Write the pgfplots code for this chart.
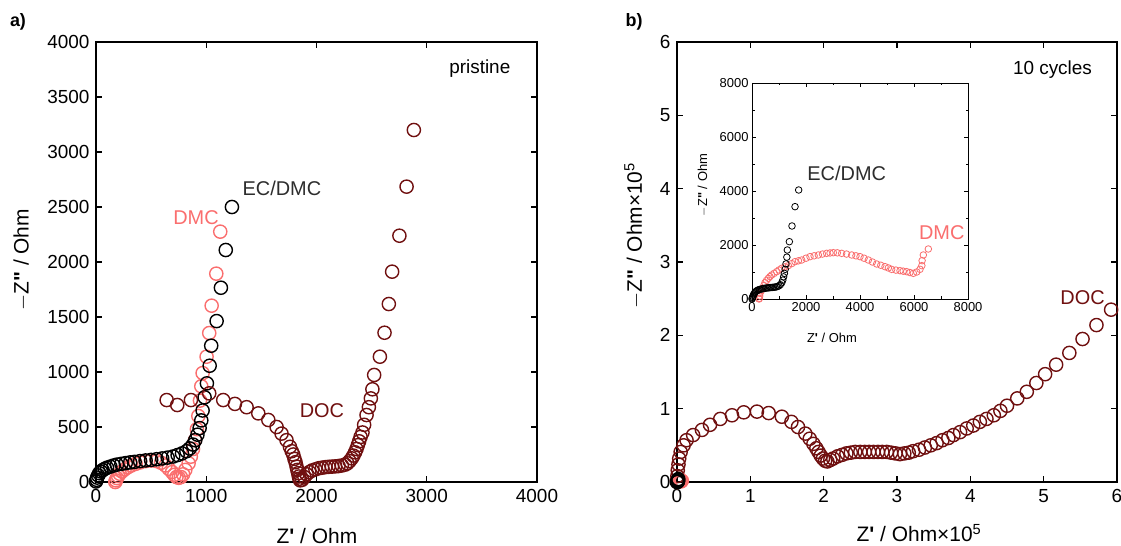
\documentclass[border=0pt]{standalone}
\usepackage{fontspec}
\setmainfont{Liberation Sans}[Ligatures=TeXOff]
\usepackage{pgfplots}
\pgfplotsset{compat=1.18}
\definecolor{docred}{RGB}{112,16,16}
\definecolor{dmcred}{RGB}{250,110,110}
\definecolor{ecgray}{RGB}{45,45,45}
\newcommand{\zpp}{Z{\bfseries\symbol{34}}}
\newcommand{\zp}{Z{\bfseries\symbol{39}}}
\begin{document}
\begin{tikzpicture}
\useasboundingbox (0,0) rectangle (1121bp,546bp);
\pgfplotsset{
  mainax/.style={scale only axis, clip=false,
    axis line style={line width=1.2bp},
    every tick/.style={line width=1.2bp, black},
    major tick length=6bp, minor tick length=3.5bp, tick align=inside,
    ticklabel style={font=\fontsize{19}{19}\selectfont},
    label style={font=\fontsize{21}{21}\selectfont},
    /pgf/number format/assume math mode=true,
    /pgf/number format/1000 sep={},
    xticklabel style={yshift=-4bp},
    yticklabel style={xshift=-3bp}},
  bigmk/.style={only marks, mark=o, mark size=6.6bp, mark options={line width=1.4bp, fill=white, draw=#1}},
  smallmk/.style={only marks, mark=o, mark size=3.3bp, mark options={line width=0.8bp, fill=white, draw=#1}},
}
% ---------------- panel a ----------------
\begin{axis}[mainax, at={(96bp,64bp)}, anchor=south west,
  width=441bp, height=440bp,
  xmin=0, xmax=4000, ymin=0, ymax=4000,
  xtick={0,1000,...,4000}, ytick={0,500,...,4000},
  xlabel={\zp\ / Ohm}, ylabel={$-$\zpp\ / Ohm},
  xlabel style={at={(axis description cs:0.501,-0.123)}, anchor=center},
  ylabel style={at={(axis description cs:-0.168,0.505)}, anchor=center}]
\addplot[bigmk=dmcred] coordinates {
(175,0) (180,15) (190,35) (200,55) (215,75) (235,95) (260,115) (290,135)
(320,150) (360,165) (400,178) (450,190) (500,195) (550,190) (590,175)
(630,150) (660,120) (690,90) (710,65) (730,45) (750,38) (770,45) (790,70)
(810,110) (840,170) (860,230) (880,300) (898,380) (915,480) (928,600)
(943,740) (955,870) (967,990) (1003,1139) (1027,1354) (1049,1603)
(1091,1894) (1127,2276)};
\addplot[bigmk=black] coordinates {
(0,5) (5,20) (10,40) (20,60) (30,80) (45,95) (60,108) (80,120) (100,130)
(130,140) (160,150) (190,158) (230,165) (270,172) (310,178) (350,183)
(400,190) (450,196) (500,201) (550,207) (600,214) (650,222) (700,232)
(740,245) (780,260) (820,280) (850,305) (880,340) (900,380) (920,430)
(940,490) (955,560) (967,650) (985,770) (1006,897) (1031,1057)
(1045,1239) (1094,1463) (1133,1766) (1177,2109) (1233,2500)};
\addplot[bigmk=docred] coordinates {
(641,745) (737,700) (861,745) (1027,806) (1154,745) (1260,710) (1366,680)
(1472,624) (1563,564) (1638,500) (1683,440) (1728,380) (1759,320)
(1775,280) (1789,250) (1800,210) (1810,180) (1819,140) (1826,110)
(1834,80) (1840,50) (1845,30) (1852,15) (1870,20) (1890,45) (1910,70)
(1935,90) (1960,105) (1990,115) (2020,125) (2050,130) (2080,135)
(2110,138) (2140,140) (2170,142) (2200,145) (2230,150) (2260,158)
(2280,170) (2300,190) (2320,215) (2335,240) (2350,270) (2363,300)
(2375,335) (2387,370) (2400,410) (2417,450) (2432,520) (2454,609)
(2475,680) (2493,760) (2507,843) (2523,973) (2575,1139) (2617,1357)
(2656,1618) (2686,1912) (2752,2239) (2817,2685) (2883,3200)};
\node[font=\fontsize{19}{19}\selectfont, text=black] at (axis cs:3481,3755) {pristine};
\node[font=\fontsize{20}{20}\selectfont, text=ecgray] at (axis cs:1686,2673) {EC/DMC};
\node[font=\fontsize{20}{20}\selectfont, text=dmcred] at (axis cs:907,2400) {DMC};
\node[font=\fontsize{20}{20}\selectfont, text=docred] at (axis cs:2049,645) {DOC};
\end{axis}
\node[font=\fontsize{18}{18}\selectfont\bfseries] at (18bp,524bp) {a)};
\node[font=\fontsize{18}{18}\selectfont\bfseries] at (634bp,524bp) {b)};
% ---------------- panel b ----------------
\begin{axis}[mainax, at={(677bp,64bp)}, anchor=south west,
  width=440bp, height=440bp,
  xmin=0, xmax=6, ymin=0, ymax=6,
  xtick={0,1,...,6}, ytick={0,1,...,6},
  xlabel={\zp\ / Ohm×10\textsuperscript{5}}, ylabel={$-$\zpp\ / Ohm×10\textsuperscript{5}},
  xlabel style={at={(axis description cs:0.55,-0.116)}, anchor=center},
  ylabel style={at={(axis description cs:-0.098,0.56)}, anchor=center}]
\addplot[bigmk=docred] coordinates {
(0,0.02) (0.005,0.08) (0.01,0.16) (0.02,0.24) (0.03,0.32) (0.05,0.41)
(0.09,0.5) (0.13,0.57) (0.22,0.64) (0.34,0.71) (0.45,0.78) (0.59,0.86)
(0.75,0.91) (0.91,0.95) (1.09,0.96) (1.25,0.94) (1.43,0.89) (1.56,0.82)
(1.65,0.75) (1.75,0.66) (1.81,0.59) (1.86,0.52) (1.9,0.46) (1.93,0.41)
(1.96,0.36) (1.99,0.32) (2.02,0.29) (2.05,0.28) (2.09,0.3) (2.13,0.32)
(2.19,0.35) (2.25,0.37) (2.31,0.39) (2.37,0.4) (2.43,0.41) (2.5,0.41)
(2.56,0.41) (2.62,0.41) (2.68,0.41) (2.74,0.41) (2.8,0.41) (2.86,0.41)
(2.92,0.4) (2.98,0.39) (3.04,0.38) (3.1,0.39) (3.16,0.4) (3.22,0.42)
(3.3,0.44) (3.38,0.47) (3.46,0.5) (3.54,0.53) (3.62,0.57) (3.7,0.6)
(3.77,0.64) (3.86,0.68) (3.95,0.73) (4.04,0.77) (4.13,0.82) (4.22,0.86)
(4.32,0.91) (4.41,0.97) (4.5,1.04) (4.64,1.14) (4.77,1.23) (4.9,1.35)
(5.02,1.47) (5.17,1.6) (5.35,1.76) (5.53,1.95) (5.72,2.14) (5.92,2.35)};
\addplot[bigmk=dmcred] coordinates {
(0.003,0) (0.01,0.01) (0.02,0.015) (0.03,0.017) (0.045,0.015) (0.055,0.01)
(0.06,0.012) (0.065,0.019)};
\addplot[bigmk=black] coordinates {
(0,0) (0.005,0.004) (0.01,0.005) (0.013,0.01) (0.015,0.025) (0.017,0.04)};
\node[font=\fontsize{19}{19}\selectfont, text=black] at (axis cs:5.12,5.63) {10 cycles};
\node[font=\fontsize{20}{20}\selectfont, text=docred] at (axis cs:5.53,2.52) {DOC};
\end{axis}
% ---------------- inset ----------------
\begin{axis}[scale only axis, clip=false, at={(752bp,247bp)}, anchor=south west,
  width=216bp, height=216bp,
  axis background/.style={fill=white},
  axis line style={line width=0.8bp},
  every tick/.style={line width=0.8bp, black},
  major tick length=4bp, minor tick length=2.5bp, tick align=inside,
  xmin=0, xmax=8000, ymin=0, ymax=8000,
  xtick={0,2000,...,8000}, ytick={0,2000,...,8000}, minor tick num=1,
  ticklabel style={font=\fontsize{13}{13}\selectfont},
  label style={font=\fontsize{13}{13}\selectfont},
  /pgf/number format/assume math mode=true,
  /pgf/number format/1000 sep={},
  xlabel={\zp\ / Ohm}, ylabel={$-$\zpp\ / Ohm},
  xlabel style={at={(axis description cs:0.37,-0.18)}, anchor=center},
  ylabel style={at={(axis description cs:-0.227,0.528)}, anchor=center}]
\addplot[smallmk=dmcred] coordinates {
(260,0) (272,25) (285,110) (296,210) (340,300) (395,395) (440,500)
(481,605) (540,690) (605,765) (665,830) (728,889) (820,950) (914,1012)
(1000,1075) (1099,1136) (1220,1190) (1346,1235) (1470,1310) (1593,1383)
(1720,1415) (1840,1444) (2000,1510) (2148,1568) (2300,1600) (2457,1630)
(2610,1665) (2765,1691) (2890,1705) (3012,1716) (3160,1710) (3321,1691)
(3500,1665) (3691,1630) (3850,1600) (4000,1568) (4150,1510) (4309,1444)
(4460,1370) (4617,1296) (4770,1250) (4926,1198) (5050,1150) (5173,1098)
(5330,1070) (5481,1049) (5600,1030) (5728,1012) (5850,980) (5975,951)
(6100,1000) (6222,1100) (6290,1235) (6300,1420) (6346,1630) (6531,1852)};
\addplot[smallmk=black] coordinates {
(0,0) (10,30) (20,60) (35,100) (50,140) (70,180) (95,220) (120,255)
(150,285) (185,310) (220,330) (260,345) (300,358) (350,370) (400,382)
(450,392) (500,400) (550,408) (600,415) (650,420) (700,425) (750,430)
(800,435) (850,440) (900,450) (950,465) (1000,490) (1050,530) (1100,600)
(1140,700) (1170,820) (1200,950) (1230,1100) (1259,1300) (1290,1550)
(1309,1815) (1383,2123) (1481,2704) (1593,3420) (1728,4037)};
\node[font=\fontsize{20}{20}\selectfont, text=ecgray] at (axis cs:3507,4656) {EC/DMC};
\node[font=\fontsize{20}{20}\selectfont, text=dmcred] at (axis cs:7026,2456) {DMC};
\end{axis}
\end{tikzpicture}
\end{document}
